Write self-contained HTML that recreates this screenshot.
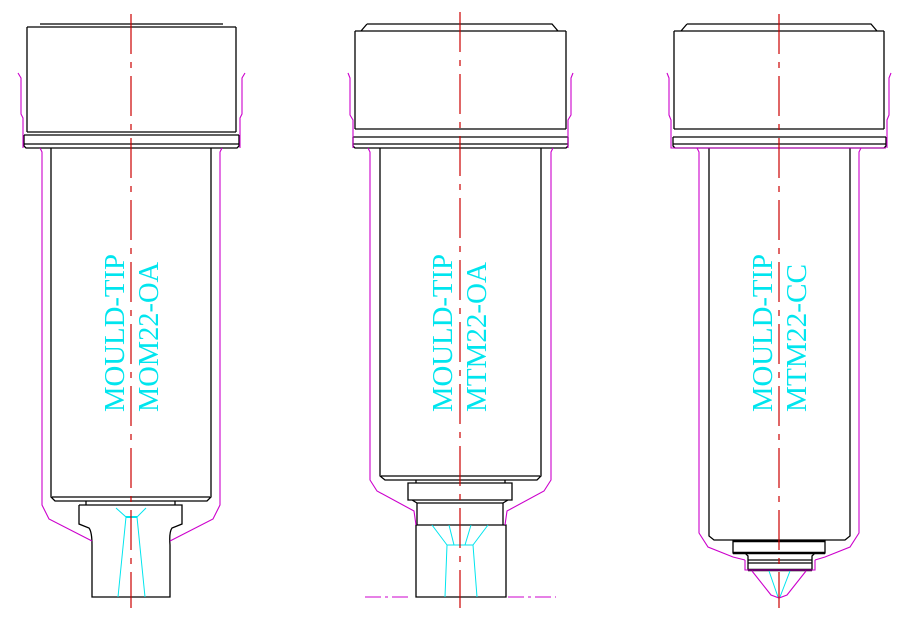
<!DOCTYPE html>
<html><head><meta charset="utf-8"><style>
html,body{margin:0;padding:0;background:#fff;}
svg{display:block}
text{font-family:"Liberation Serif",serif;fill:#00e5ee;font-size:28px}
</style></head><body>
<svg width="900" height="623" viewBox="0 0 900 623" xmlns="http://www.w3.org/2000/svg">
<g fill="none" stroke="#000" stroke-width="1.3">
<!-- Drawing 1 -->
<path d="M40 24 H223 M27 27 H236 M27 27 V132 M236 27 V132 M27 132 H236 M24 135 H239 M24 135 V146 L26 148 H237 L239 146 V135 M24 144 H239"/>
<path d="M51 148 V497 L55 501 H207 L211 497 V148 M52 497 H210"/>
<path d="M86 501 V505 M175 501 V505 M79 505 H182 V524 L172 528 Q169 532 170 545 M79 505 V524 L89 528 Q92 532 92 545 M92 545 V597 H170 V545"/>
<!-- Drawing 2 -->
<path d="M367 24 H552 L558 31 M367 24 L361 31 M355 31 H566 M355 31 V129 M566 31 V129 M355 129 H566 M353 137 H568 M353 137 V146 L355 148 H566 L568 146 V137 M353 144 H568"/>
<path d="M380 148 V476 L385 480 H537 L541 476 V148 M381 476 H540"/>
<path d="M416 480 V483 M505 480 V483 M408 483 H512 V500 H408 Z M412 500 L417 503 H503 L508 500 M417 503 V525 H503 V503 M416 525 V597 H506 V525 Z"/>
<!-- Drawing 3 -->
<path d="M687 24 H871 L877 31 M687 24 L681 31 M674 31 H884 M674 31 V129 M884 31 V129 M674 129 H884 M673 137 H886 M673 137 V146 L675 148 H884 L886 146 V137 M673 144 H886"/>
<path d="M709 148 V536 L714 540 H845 L850 536 V148"/>
<path d="M733 541 H825 V553 H733 Z M745 553 L748 556 V570 H812 V556 L815 553 M748 560 H812 M748 563 H812"/>
<path d="M733 541 H825 M733 553 H825 M748 570 H812" stroke-width="2.5"/>
</g>
<g fill="none" stroke="#cc00cc" stroke-width="1.1">
<!-- magenta 1 -->
<path d="M18 73 L21 78 V114 L23 118 V148 M245 73 L242 78 V114 L240 118 V148"/>
<path d="M40 148 L42 152 V505 L49 519 L92 541 M222 148 L220 152 V505 L213 519 L170 541"/>
<!-- magenta 2 -->
<path d="M348 73 L350 78 V115 L353 120 V148 M573 73 L571 78 V115 L568 120 V148"/>
<path d="M368 148 L370 152 V480 L377 491 L414 511 L416 525 M553 148 L551 152 V480 L544 491 L507 511 L505 525"/>
<path d="M365 597 H410 M508 597 H556" stroke-dasharray="16 4 3 4"/>
<!-- magenta 3 -->
<path d="M667 73 L669 78 V115 L671 120 V148 H886 M891 73 L889 78 V115 L887 120 V148"/>
<path d="M697 148 L699 152 V533 L708 547 L733 557 L745 560 M861 148 L859 152 V533 L850 547 L825 557 L815 560"/>
<path d="M745 560 V570 H815 V560 M752 571 L771 595 L779 598 L787 595 L806 571"/>
</g>
<g fill="none" stroke="#00e5ee" stroke-width="1">
<path d="M116 508 L126 517 L118 597 M146 508 L137 517 L145 597 M126 517 H137"/>
<path d="M126 517 H137" stroke-width="2"/>
<path d="M432 525 L447 545 L445 597 M449 525 L454 545 M471 525 L465 545 M488 525 L473 545 L477 597 M447 545 H473"/>
<path d="M769 571 L778 597 M790 571 L780 597"/>
</g>
<g stroke="#cc0000" stroke-width="1.2" stroke-dasharray="40 8 6 8">
<path d="M131 14 V608 M460 12 V608 M779 14 V608"/>
</g>
<g>
<text transform="translate(124,412) rotate(-90)" textLength="158" lengthAdjust="spacingAndGlyphs">MOULD-TIP</text>
<text transform="translate(158,412) rotate(-90)" textLength="150" lengthAdjust="spacingAndGlyphs">MOM22-OA</text>
<text transform="translate(452,412) rotate(-90)" textLength="158" lengthAdjust="spacingAndGlyphs">MOULD-TIP</text>
<text transform="translate(486,412) rotate(-90)" textLength="150" lengthAdjust="spacingAndGlyphs">MTM22-OA</text>
<text transform="translate(772,412) rotate(-90)" textLength="158" lengthAdjust="spacingAndGlyphs">MOULD-TIP</text>
<text transform="translate(806,412) rotate(-90)" textLength="148" lengthAdjust="spacingAndGlyphs">MTM22-CC</text>
</g>
</svg>
</body></html>
